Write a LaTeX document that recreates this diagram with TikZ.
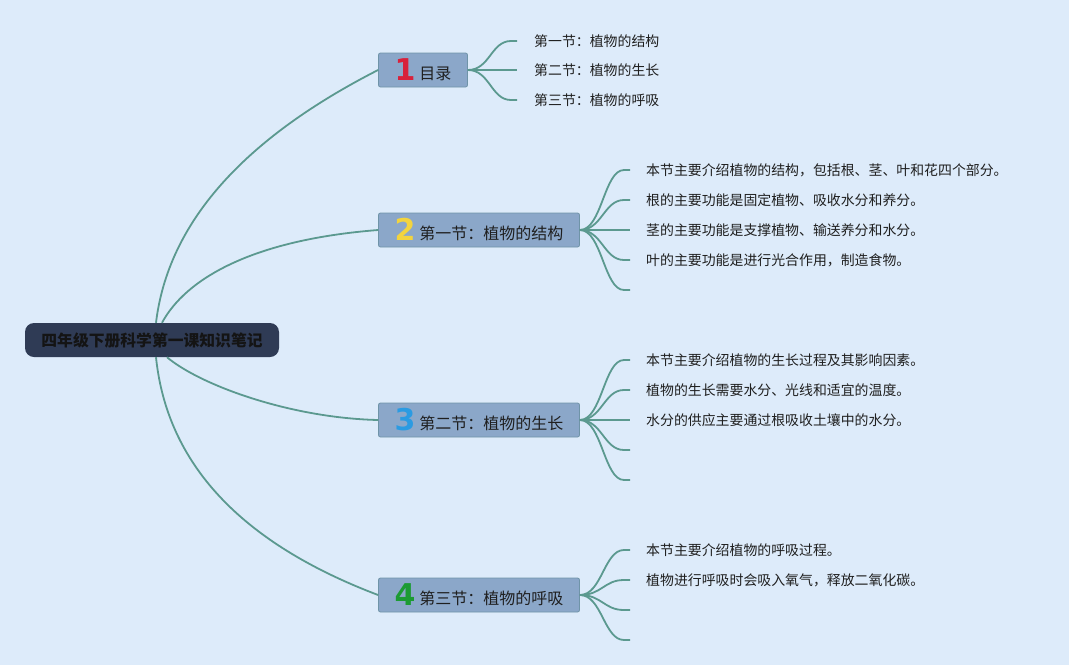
\documentclass[tikz,border=0pt]{standalone}
\usepackage{fontspec}
\newfontfamily\cjk{Noto Sans CJK SC}
\newfontfamily\numfont{DejaVu Sans}
\usepackage{tikz}
\usetikzlibrary{positioning,calc}
\definecolor{bgblue}{HTML}{DDEBFA}
\definecolor{rootnavy}{HTML}{2F3B55}
\definecolor{boxblue}{HTML}{8BA7C9}
\definecolor{boxedge}{HTML}{6F94A8}
\definecolor{linkteal}{HTML}{5B998F}
\definecolor{badgered}{HTML}{D8213B}
\definecolor{badgeyellow}{HTML}{F3D43E}
\definecolor{badgeblue}{HTML}{2B9BE2}
\definecolor{badgegreen}{HTML}{1C9B33}
\tikzset{rootbox/.style={rounded corners=9, fill=rootnavy, text=black!92, inner sep=0pt, minimum width=254, minimum height=34, font=\cjk\bfseries\fontsize{15.8}{18}\selectfont}}
\tikzset{branchbox/.style={rounded corners=2, fill=boxblue, draw=boxedge, line width=0.8pt, inner sep=0pt, minimum height=34, text=black!88, font=\cjk\fontsize{16}{18}\selectfont}}
\tikzset{leaf/.style={inner sep=0pt, text=black!88, font=\cjk\fontsize{13.9}{16}\selectfont}}
\tikzset{link/.style={draw=linkteal, line width=1.8pt}}
\newcommand\badge[2]{{\numfont\bfseries\fontsize{30}{30}\selectfont\color{#1}\raisebox{-1pt}{#2}}\hspace{4pt}}
\newcommand\leafarr[2]{
				\draw[link] (#1) .. controls ([xshift=22pt]#1) and ([xshift=-26pt]#2) .. ([xshift=-6pt]#2) -- (#2);
				}

\begin{document}
\begin{tikzpicture}[x=1pt, y=-1pt]
	\fill[bgblue] (0,0) rectangle (1069,665);
	\useasboundingbox (0,0) rectangle (1069,665);

	\node[rootbox] (root) at (152,340) {四年级下册科学第一课知识笔记};

	\node[branchbox, minimum width=89] (b1) at (423,70) {\badge{badgered}{1}目录};
	\node[branchbox, minimum width=201] (b2) at (479,230) {\badge{badgeyellow}{2}第一节：植物的结构};
	\node[branchbox, minimum width=201] (b3) at (479,420) {\badge{badgeblue}{3}第二节：植物的生长};
	\node[branchbox, minimum width=201] (b4) at (479,595) {\badge{badgegreen}{4}第三节：植物的呼吸};

	\draw[link] ([xshift=4pt]root.north) .. controls (168,223) and (243,139) .. (b1.west);
	\draw[link] ([xshift=10pt]root.north) .. controls (185,280) and (250,240) .. (b2.west);
	\draw[link] ([xshift=15pt]root.south) .. controls (200,385) and (290,418) .. (b3.west);
	\draw[link] ([xshift=4pt]root.south) .. controls (167,464) and (241,543) .. (b4.west);

	% contents
	\coordinate (s11) at (517,41);
	\coordinate (s12) at (517,70);
	\coordinate (s13) at (517,100);
	\node[leaf, right=17pt of s11] (l11) {第一节：植物的结构};
	\node[leaf, right=17pt of s12] (l12) {第二节：植物的生长};
	\node[leaf, right=17pt of s13] (l13) {第三节：植物的呼吸};
	\leafarr{b1.east}{s11}
	\leafarr{b1.east}{s12}
	\leafarr{b1.east}{s13}

	% section 1
	\coordinate (s21) at (630,170);
	\coordinate (s22) at (630,200);
	\coordinate (s23) at (630,230);
	\coordinate (s24) at (630,260);
	\coordinate (s25) at (630,290);
	\node[leaf, right=16pt of s21] (l21) {本节主要介绍植物的结构，包括根、茎、叶和花四个部分。};
	\node[leaf, right=16pt of s22] (l22) {根的主要功能是固定植物、吸收水分和养分。};
	\node[leaf, right=16pt of s23] (l23) {茎的主要功能是支撑植物、输送养分和水分。};
	\node[leaf, right=16pt of s24] (l24) {叶的主要功能是进行光合作用，制造食物。};
	\leafarr{b2.east}{s21}
	\leafarr{b2.east}{s22}
	\leafarr{b2.east}{s23}
	\leafarr{b2.east}{s24}
	\leafarr{b2.east}{s25}

	% section 2
	\coordinate (s31) at (630,360);
	\coordinate (s32) at (630,390);
	\coordinate (s33) at (630,420);
	\coordinate (s34) at (630,450);
	\coordinate (s35) at (630,480);
	\node[leaf, right=16pt of s31] (l31) {本节主要介绍植物的生长过程及其影响因素。};
	\node[leaf, right=16pt of s32] (l32) {植物的生长需要水分、光线和适宜的温度。};
	\node[leaf, right=16pt of s33] (l33) {水分的供应主要通过根吸收土壤中的水分。};
	\leafarr{b3.east}{s31}
	\leafarr{b3.east}{s32}
	\leafarr{b3.east}{s33}
	\leafarr{b3.east}{s34}
	\leafarr{b3.east}{s35}

	% section 3
	\coordinate (s41) at (630,550);
	\coordinate (s42) at (630,580);
	\coordinate (s43) at (630,610);
	\coordinate (s44) at (630,640);
	\node[leaf, right=16pt of s41] (l41) {本节主要介绍植物的呼吸过程。};
	\node[leaf, right=16pt of s42] (l42) {植物进行呼吸时会吸入氧气，释放二氧化碳。};
	\leafarr{b4.east}{s41}
	\leafarr{b4.east}{s42}
	\leafarr{b4.east}{s43}
	\leafarr{b4.east}{s44}
\end{tikzpicture}
\end{document}
